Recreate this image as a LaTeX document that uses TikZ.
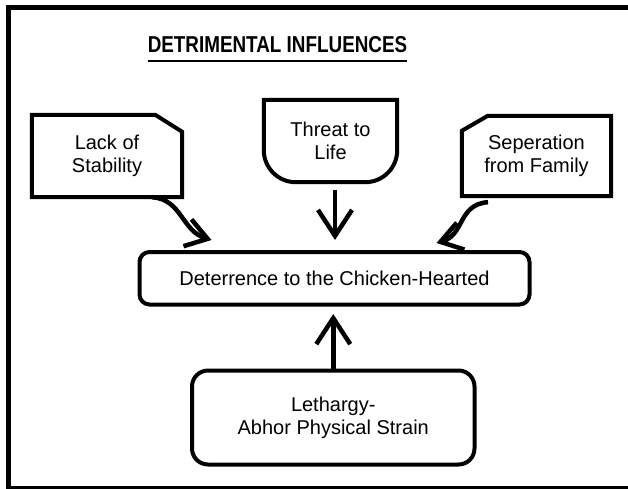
\documentclass[tikz,border=0pt]{standalone}
\usepackage{fontspec}
\usepackage{graphicx}
\setmainfont{Liberation Sans}
\usetikzlibrary{arrows.meta}
\begin{document}
\begin{tikzpicture}[x=1pt,y=1pt,
  lw/.style={line width=4pt},
  txt/.style={align=center,font=\fontsize{20}{23}\selectfont,inner sep=0pt},
  bigtip/.style={-{Straight Barb[length=26pt,width=34pt]}},
  smalltip/.style={-{Straight Barb[length=21pt,width=28pt]}},
  rbox/.style={draw,lw,txt,rounded corners=#1}]
\useasboundingbox (0,0) rectangle (628,488);
\begin{scope}
\clip (0,0) rectangle (628,488);
\draw[line width=5pt] (8.5,-0.5) rectangle (650,480);
\end{scope}
% title
\node[anchor=base,font=\bfseries\fontsize{23}{23}\selectfont,inner sep=0pt] (title) at (277.5,435) {\scalebox{0.82}[1]{DETRIMENTAL INFLUENCES}};
\draw[line width=2pt] ([yshift=-8pt]title.base west) -- ([yshift=-8pt]title.base east);
% lack of stability
\node[txt,minimum width=150pt,minimum height=82pt] (lack) at (107,332) {Lack of\\Stability};
\draw[lw,line join=miter] (lack.south west) -- (lack.north west) -- ([xshift=-27pt]lack.north east) -- ([yshift=-17pt]lack.north east) -- (lack.south east) -- cycle;
% threat
\node[txt,minimum width=133pt,minimum height=82pt] (threat) at (330.5,347) {Threat to\\Life};
\draw[lw] (threat.north east) -- (threat.north west) -- ([yshift=32pt]threat.south west) arc[start angle=180,end angle=270,radius=32pt] -- ([xshift=-32pt]threat.south east) arc[start angle=270,end angle=360,radius=32pt] -- cycle;
% separation
\node[txt,minimum width=149pt,minimum height=80pt] (sep) at (536.5,332) {Seperation\\from Family};
\draw[lw,line join=miter] (sep.south west) -- ([yshift=-15pt]sep.north west) -- ([xshift=26pt]sep.north west) -- (sep.north east) -- (sep.south east) -- cycle;
% main
\node[rbox=10pt,minimum width=390pt,minimum height=52.5pt] (main) at (334.5,209.75) {Deterrence to the Chicken-Hearted};
% lethargy
\node[rbox=16pt,minimum width=282.5pt,minimum height=94pt] (leth) at (333.25,70.5) {Lethargy-\\Abhor Physical Strain};
% arrows
\draw[line width=4.5pt,bigtip] ([xshift=4.5pt,yshift=-8pt]threat.south) -- ([xshift=0.5pt,yshift=10pt]main.north);
\draw[line width=4.5pt,bigtip] (leth.north) -- ([yshift=-7.5pt]main.south -| leth.north);
\draw[line width=4.5pt,smalltip] ([xshift=45pt]lack.south) .. controls +(30,-2) and +(-30,9) .. ([shift={(74pt,10pt)}]main.north west);
\draw[line width=4.5pt,smalltip] ([xshift=-48.5pt,yshift=-6pt]sep.south) .. controls +(-30,-2) and +(28,8) .. ([shift={(-95pt,7pt)}]main.north east);
\end{tikzpicture}
\end{document}
